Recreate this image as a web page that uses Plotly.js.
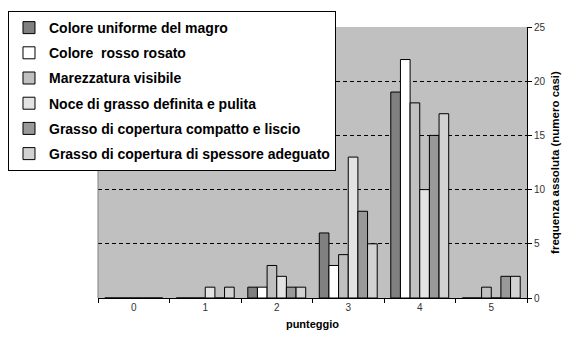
<!DOCTYPE html>
<html>
<head>
<meta charset="utf-8">
<script src="https://cdn.plot.ly/plotly-3.0.1.min.js"></script>
<style>html,body{margin:0;padding:0;background:#fff;}#chart{width:563px;height:339px;}</style>
</head>
<body>
<div id="chart"></div>
<script>
const categories = ['0', '1', '2', '3', '4', '5'];
const seriesNames = [
  'Colore uniforme del magro',
  'Colore  rosso rosato',
  'Marezzatura visibile',
  'Noce di grasso definita e pulita',
  'Grasso di copertura compatto e liscio',
  'Grasso di copertura di spessore adeguato'
];
const coloreUniforme = [0, 0, 1, 6, 19, 0];
const coloreRosso = [0, 0, 1, 3, 22, 0];
const marezzatura = [0, 0, 3, 4, 18, 1];
const noceGrasso = [0, 1, 2, 13, 10, 0];
const grassoCompatto = [0, 0, 1, 8, 15, 2];
const grassoSpessore = [0, 1, 1, 5, 17, 2];
const yTicks = [0, 5, 10, 15, 20, 25];

const seriesValues = [coloreUniforme, coloreRosso, marezzatura, noceGrasso, grassoCompatto, grassoSpessore];
const colors = ['#808080', '#ffffff', '#c0c0c0', '#e3e3e3', '#999999', '#d2d2d2'];

const traces = seriesValues.map((vals, i) => ({
  type: 'bar',
  name: seriesNames[i].replace(/  /g, '&nbsp; '),
  x: categories,
  y: vals,
  legendgroup: 'g' + i,
  marker: {color: colors[i], line: {color: '#000', width: 1}},
  hoverinfo: 'skip'
}));

const layout = {
  width: 563, height: 339,
  margin: {l: 98, r: 36, t: 27, b: 41, autoexpand: false},
  paper_bgcolor: '#fff',
  plot_bgcolor: '#c0c0c0',
  barmode: 'group',
  bargap: 0.19,
  bargroupgap: 0,
  font: {family: 'Liberation Sans, Arial, sans-serif', color: '#000'},
  showlegend: true,
  legend: {
    x: -0.2098, y: 1.059, xanchor: 'left', yanchor: 'top',
    bgcolor: '#fff', bordercolor: '#000', borderwidth: 1,
    font: {size: 14, family: 'Liberation Sans, Arial, sans-serif', weight: 700, color: '#000'},
    traceorder: 'grouped', tracegroupgap: 4
  },
  xaxis: {
    type: 'category',
    categoryorder: 'array', categoryarray: categories,
    tickson: 'boundaries',
    ticks: 'outside', ticklen: 4, tickcolor: '#000',
    showline: true, linecolor: '#000', linewidth: 1,
    showgrid: false,
    tickfont: {size: 10, color: '#333'},
    title: {text: 'punteggio', font: {size: 11, weight: 700}, standoff: 8}
  },
  yaxis: {
    side: 'right',
    range: [0, 25],
    tickvals: yTicks,
    ticks: 'outside', ticklen: 4, tickcolor: '#000',
    showline: true, linecolor: '#000', linewidth: 1,
    showgrid: true, gridcolor: '#000', griddash: '4px,3px', gridwidth: 1,
    zeroline: false,
    tickfont: {size: 10, color: '#333'},
    title: {text: 'frequenza assoluta (numero casi)', font: {size: 11.5, weight: 700}, standoff: 6}
  },
  shapes: [
    {type: 'line', xref: 'paper', yref: 'paper', x0: 0, x1: 0, y0: 0, y1: 1, line: {color: '#808080', width: 1}}
  ]
};

Plotly.newPlot('chart', traces, layout, {displayModeBar: false, staticPlot: true});
</script>
</body>
</html>
